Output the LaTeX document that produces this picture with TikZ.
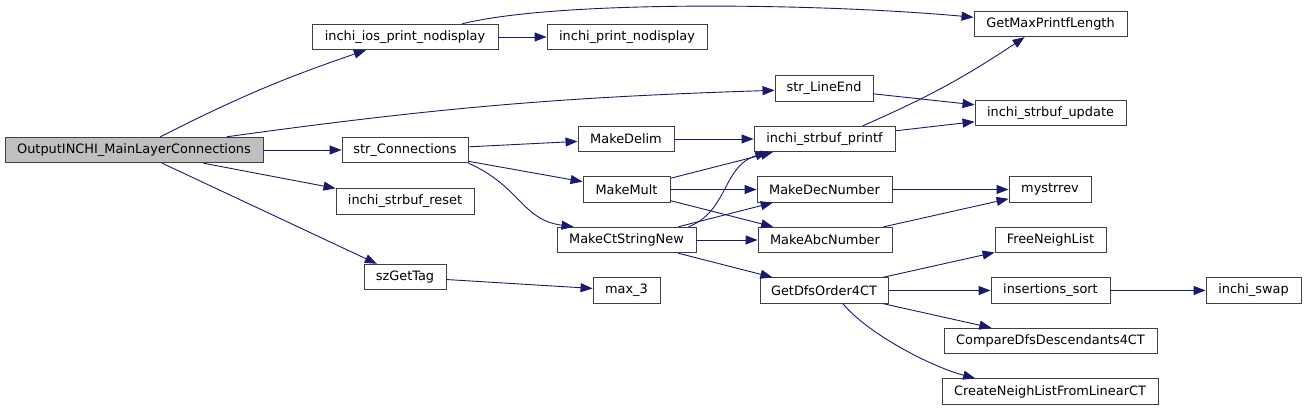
\documentclass[tikz,border=0pt]{standalone}
\usepackage{fontspec}
\setmainfont{DejaVu Sans}
\usepackage{tikz}
\usetikzlibrary{arrows.meta}
\definecolor{edgeblue}{HTML}{191970}
\definecolor{boxline}{HTML}{404040}
\definecolor{rootfill}{HTML}{BFBFBF}

\begin{document}
\begin{tikzpicture}[
  x=1pt,y=1pt,
  font=\fontsize{12.9}{15}\selectfont,
  fn/.style={draw=boxline,fill=white,line width=0.9pt,minimum height=25.5pt,inner sep=0pt},
  call/.style={-{Triangle[length=12pt,width=9pt]},draw=edgeblue,line width=0.9pt},
]
\useasboundingbox (0,0) rectangle (1307,411);
% caller
\node[fn,fill=rootfill,minimum width=258pt] (root) at (134,261) {OutputINCHI\_MainLayerConnections};
% first level
\node[fn,minimum width=186pt] (iosprint) at (405,374) {inchi\_ios\_print\_nodisplay};
\node[fn,minimum width=126pt] (strconn) at (405,261) {str\_Connections};
\node[fn,minimum width=138pt] (sbreset) at (405,209.5) {inchi\_strbuf\_reset};
\node[fn,minimum width=82pt] (gettag) at (405,134) {szGetTag};
% second level
\node[fn,minimum width=160pt] (printnd) at (627,374) {inchi\_print\_nodisplay};
\node[fn,minimum width=96pt] (mkdelim) at (626,272) {MakeDelim};
\node[fn,minimum width=87pt] (mkmult) at (626.5,221.5) {MakeMult};
\node[fn,minimum width=139pt] (ctstring) at (626.5,171) {MakeCtStringNew};
\node[fn,minimum width=67pt] (maxthree) at (626.5,120.5) {max\_3};
% third level
\node[fn,minimum width=98pt] (lineend) at (824,322.5) {str\_LineEnd};
\node[fn,minimum width=141pt] (sbprintf) at (824.5,272) {inchi\_strbuf\_printf};
\node[fn,minimum width=135pt] (decnum) at (824.5,221.5) {MakeDecNumber};
\node[fn,minimum width=134pt] (abcnum) at (825,171) {MakeAbcNumber};
\node[fn,minimum width=128pt] (dfsorder) at (824,120.5) {GetDfsOrder4CT};
% fourth level
\node[fn,minimum width=153pt] (maxlen) at (1050.5,387) {GetMaxPrintfLength};
\node[fn,minimum width=151pt] (sbupdate) at (1050.5,298) {inchi\_strbuf\_update};
\node[fn,minimum width=82pt] (strrev) at (1050,221.5) {mystrrev};
\node[fn,minimum width=111pt] (freelist) at (1050.5,171) {FreeNeighList};
\node[fn,minimum width=119pt] (inssort) at (1050.5,120.5) {insertions\_sort};
\node[fn,minimum width=213pt] (cmpdesc) at (1050.5,70) {CompareDfsDescendants4CT};
\node[fn,minimum width=216pt] (mklist) at (1050,19.5) {CreateNeighListFromLinearCT};
\node[fn,minimum width=95pt] (swap) at (1253.5,120.5) {inchi\_swap};
% calls
\draw[call] (root) to[bend left=4] (iosprint);
\draw[call] (root) to[bend left=3] (lineend);
\draw[call] (root) -- (strconn);
\draw[call] (root) -- (sbreset);
\draw[call] (root) -- (gettag);
\draw[call] (iosprint) -- (printnd);
\draw[call] (iosprint.13) .. controls +(97,24) and +(-154,14) .. (maxlen.175);
\draw[call] (lineend) -- (sbupdate);
\draw[call] (strconn) -- (mkdelim);
\draw[call] (strconn) -- (mkmult);
\draw[call] (strconn.south east) .. controls +(52,-23) and +(-52,7) .. (ctstring.166);
\draw[call] (mkdelim) -- (sbprintf);
\draw[call] (sbprintf.19) to[bend right=5] (maxlen.207);
\draw[call] (sbprintf) -- (sbupdate);
\draw[call] (mkmult) -- (sbprintf);
\draw[call] (mkmult) -- (decnum);
\draw[call] (mkmult) -- (abcnum);
\draw[call] (decnum) -- (strrev);
\draw[call] (abcnum) -- (strrev);
\draw[call] (ctstring.12) .. controls +(40,16) and +(-45,-14) .. (sbprintf.193);
\draw[call] (ctstring) -- (decnum);
\draw[call] (ctstring) -- (abcnum);
\draw[call] (ctstring) -- (dfsorder);
\draw[call] (gettag) -- (maxthree);
\draw[call] (dfsorder) -- (freelist);
\draw[call] (dfsorder) -- (inssort);
\draw[call] (dfsorder) -- (cmpdesc);
\draw[call] (dfsorder.-35) .. controls +(25,-30) and +(-45,12) .. (mklist.170);
\draw[call] (inssort) -- (swap);
\end{tikzpicture}
\end{document}
